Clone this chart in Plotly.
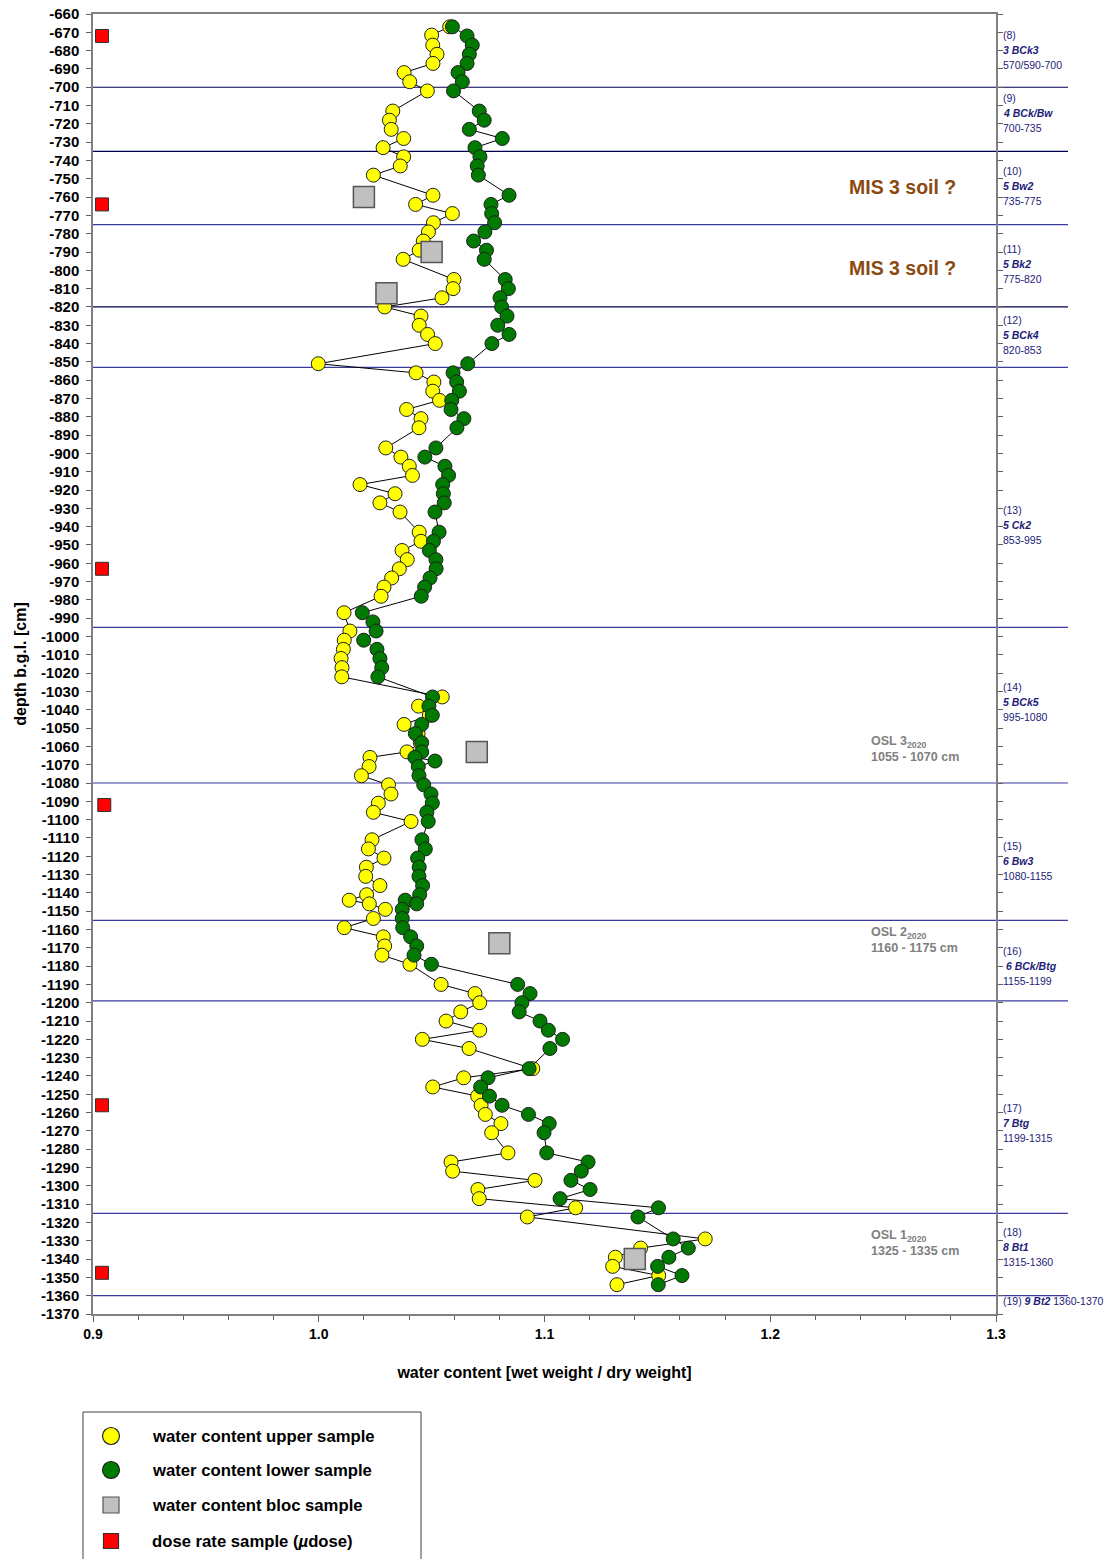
import plotly.graph_objects as go

# ---------------- data ----------------
upper_depth = [-667, -671.5, -677, -682, -687, -692, -697, -702, -713, -718, -723, -728, -733, -738, -743, -748,
               -759, -764, -769, -774, -779, -784, -789, -794, -805, -810, -815, -820, -825, -830, -835, -840,
               -851, -856, -861, -866, -871, -876, -881, -886, -897, -902, -907, -912, -917, -922, -927, -932,
               -943, -948, -953, -958, -963, -968, -973, -978, -987, -997, -1002, -1007, -1012, -1017, -1022,
               -1033, -1038, -1043, -1048, -1053, -1058, -1063, -1066, -1071, -1076, -1081, -1086, -1091, -1096,
               -1101, -1111, -1116, -1121, -1126, -1131, -1136, -1141, -1144, -1146, -1149, -1154, -1159, -1164,
               -1169, -1174, -1179, -1190, -1195, -1200, -1205, -1210, -1215, -1220, -1225, -1236, -1241, -1246,
               -1251, -1256, -1261, -1266, -1271, -1282, -1287, -1292, -1297, -1302, -1307, -1312, -1317, -1329,
               -1334, -1339, -1344, -1349, -1354]
upper_wc = [1.058, 1.050, 1.0505, 1.0524, 1.0506, 1.0378, 1.0403, 1.0481, 1.0328, 1.0313, 1.0321, 1.0376, 1.0285,
            1.0376, 1.0361, 1.0242, 1.0506, 1.0429, 1.0592, 1.0508, 1.0486, 1.0463, 1.0445, 1.0374, 1.0599, 1.0595,
            1.0546, 1.0292, 1.0453, 1.0445, 1.0482, 1.0516, 0.9998, 1.0431, 1.051, 1.0505, 1.0535, 1.0389, 1.0453,
            1.0444, 1.0297, 1.0364, 1.0401, 1.0415, 1.0183, 1.0338, 1.0271, 1.036, 1.0445, 1.0453, 1.0369, 1.0392,
            1.0357, 1.0323, 1.0289, 1.0276, 1.0112, 1.0138, 1.0113, 1.0109, 1.0099, 1.0103, 1.0102, 1.0547, 1.0442,
            1.049, 1.0378, 1.044, 1.045, 1.0391, 1.0227, 1.0223, 1.0189, 1.0309, 1.032, 1.0264, 1.0242, 1.0409,
            1.0236, 1.022, 1.0289, 1.0211, 1.0208, 1.0271, 1.0212, 1.0135, 1.0224, 1.0295, 1.0242, 1.0113, 1.0286,
            1.0292, 1.028, 1.0404, 1.0542, 1.0692, 1.0713, 1.0629, 1.0564, 1.0713, 1.0459, 1.0666, 1.0948, 1.0642,
            1.0505, 1.0704, 1.0719, 1.0738, 1.0807, 1.0766, 1.0838, 1.0586, 1.0593, 1.0958, 1.0705, 1.0711, 1.1138,
            1.0924, 1.1712, 1.1426, 1.1314, 1.1302, 1.1506, 1.1321]

lower_depth = [-667, -672, -677, -682, -687, -692, -697, -702, -713, -718, -723, -728, -733, -738, -743, -748,
               -759, -764, -769, -774, -779, -784, -789, -794, -805, -810, -815, -820, -825, -830, -835, -840,
               -851, -856, -861, -866, -871, -876, -881, -886, -897, -902, -907, -912, -917, -922, -927, -932,
               -943, -948, -953, -958, -963, -968, -973, -978, -987, -992, -997, -1002, -1007, -1012, -1017, -1022,
               -1033, -1038, -1043, -1048, -1053, -1058, -1063, -1066, -1068, -1071, -1076, -1081, -1086, -1091,
               -1096, -1101, -1111, -1116, -1121, -1126, -1131, -1136, -1141, -1144, -1146, -1149, -1154, -1159,
               -1164, -1169, -1174, -1179, -1190, -1195, -1200, -1205, -1210, -1215, -1220, -1225, -1236, -1241,
               -1246, -1251, -1256, -1261, -1266, -1271, -1282, -1287, -1292, -1297, -1302, -1307, -1312, -1317,
               -1329, -1334, -1339, -1344, -1349, -1354]
lower_wc = [1.0592, 1.0657, 1.068, 1.0667, 1.0657, 1.0617, 1.0636, 1.0597, 1.0711, 1.0733, 1.0667, 1.0813, 1.0692,
            1.0714, 1.0702, 1.0707, 1.0843, 1.0763, 1.0766, 1.0779, 1.0736, 1.0686, 1.0743, 1.0733, 1.0826, 1.084,
            1.0803, 1.081, 1.0834, 1.0793, 1.0843, 1.0767, 1.066, 1.0595, 1.0611, 1.0623, 1.0589, 1.0586, 1.0643,
            1.0612, 1.0519, 1.047, 1.0559, 1.0575, 1.0549, 1.0552, 1.0556, 1.0515, 1.0533, 1.0508, 1.049, 1.0519,
            1.052, 1.0493, 1.0469, 1.0454, 1.0193, 1.024, 1.0254, 1.0199, 1.0258, 1.0271, 1.0279, 1.0262, 1.0504,
            1.0488, 1.0503, 1.0456, 1.0428, 1.0456, 1.0456, 1.0426, 1.0515, 1.0441, 1.0444, 1.0465, 1.0497, 1.0503,
            1.0479, 1.0485, 1.0457, 1.0472, 1.0438, 1.0445, 1.0444, 1.046, 1.0447, 1.0383, 1.0434, 1.037, 1.037,
            1.0372, 1.0407, 1.0434, 1.0422, 1.0499, 1.0881, 1.0936, 1.09, 1.0888, 1.098, 1.1017, 1.108, 1.1024,
            1.0932, 1.075, 1.0717, 1.0756, 1.0812, 1.0929, 1.1021, 1.0998, 1.101, 1.1193, 1.1163, 1.1117, 1.1202,
            1.1069, 1.1505, 1.1414, 1.157, 1.1637, 1.1551, 1.1501, 1.1609, 1.1504]

bloc_depth = [-760, -790, -812.5, -1063, -1167.5, -1340]
bloc_wc = [1.02, 1.05, 1.03, 1.07, 1.08, 1.14]

dose_depth = [-672, -764, -963, -1092, -1256, -1347.5]
dose_wc = [0.904, 0.904, 0.904, 0.905, 0.904, 0.904]

horizon_bounds = [-700, -735, -775, -820, -853, -995, -1080, -1155, -1199, -1315, -1360]
horizon_colors = ["#000050", "#000050", "#3a3aa0", "#000050", "#3a3aa0", "#3a3aa0", "#3a3aa0",
                  "#3a3aa0", "#3a3aa0", "#3a3aa0", "#3a3aa0"]

horizon_nums = ["(8)", "(9)", "(10)", "(11)", "(12)", "(13)", "(14)", "(15)", "(16)", "(17)", "(18)"]
horizon_names = ["3 BCk3", "4 BCk/Bw", "5 Bw2", "5 Bk2", "5 BCk4", "5 Ck2", "5 BCk5", "6 Bw3", " 6 BCk/Btg",
                 "7 Btg", "8 Bt1"]
horizon_ranges = ["570/590-700", "700-735", "735-775", "775-820", "820-853", "853-995", "995-1080",
                  "1080-1155", "1155-1199", "1199-1315", "1315-1360"]
horizon_label_depth = [-679.5, -714.2, -754, -796.6, -835.5, -939, -1035.9, -1122.7, -1180.2, -1265.9, -1333.6]

osl_names = ["OSL 3", "OSL 2", "OSL 1"]
osl_ranges = ["1055 - 1070 cm", "1160 - 1175 cm", "1325 - 1335 cm"]
osl_label_depth = [-1061.4, -1166, -1331]

mis_label_depth = [-754.5, -798.7]

ytick_vals = list(range(-660, -1371, -10))
ytick_text = [str(v) for v in ytick_vals]
xtick_vals = [0.9, 1.0, 1.1, 1.2, 1.3]
xtick_text = ["0.9", "1.0", "1.1", "1.2", "1.3"]

legend_names = ["water content upper sample", "water content lower sample", "water content bloc sample",
                "dose rate sample (<i>µ</i>dose)"]

FONT = "Liberation Sans, Arial, sans-serif"
NAVY = "#1c1c78"

# plot-area geometry (px) used to place legend / labels in paper space
PL, PR, PT, PB = 93, 996, 14, 1314
def px_x(p):
    return (p - PL) / (PR - PL)
def px_y(p):
    return (PB - p) / (PB - PT)

fig = go.Figure()
fig.add_trace(go.Scatter(x=upper_wc, y=upper_depth, mode="lines+markers", name=legend_names[0],
                         line=dict(color="black", width=1),
                         marker=dict(symbol="circle", size=14, color="#FFFF00", line=dict(color="#202020", width=1))))
fig.add_trace(go.Scatter(x=lower_wc, y=lower_depth, mode="lines+markers", name=legend_names[1],
                         line=dict(color="black", width=1),
                         marker=dict(symbol="circle", size=14, color="#007A00", line=dict(color="#202020", width=1))))
fig.add_trace(go.Scatter(x=bloc_wc, y=bloc_depth, mode="markers", name=legend_names[2],
                         marker=dict(symbol="square", size=21, color="#C0C0C0", line=dict(color="#555555", width=1.5))))
fig.add_trace(go.Scatter(x=dose_wc, y=dose_depth, mode="markers", name=legend_names[3],
                         marker=dict(symbol="square", size=13, color="#FF0000", line=dict(color="#303030", width=1))))

shapes = []
for d, c in zip(horizon_bounds, horizon_colors):
    shapes.append(dict(type="line", xref="paper", yref="y", x0=0, x1=px_x(1068), y0=d, y1=d,
                       line=dict(color=c, width=1.2), layer="below"))

# ---- legend (drawn in paper space, below the plot) ----
shapes.append(dict(type="rect", xref="paper", yref="paper", x0=px_x(83), x1=px_x(421), y0=px_y(1412), y1=px_y(1575),
                   line=dict(color="#404040", width=1), fillcolor="rgba(0,0,0,0)"))
legend_rows = [1436, 1470, 1505, 1541]
legend_sym = [("circle", "#FFFF00", "#202020", 8.5), ("circle", "#007A00", "#202020", 8.5),
              ("rect", "#C0C0C0", "#555555", 8), ("rect", "#FF0000", "#303030", 7.5)]
annotations = []
for row, (kind, fc, lc, r), name in zip(legend_rows, legend_sym, legend_names):
    shapes.append(dict(type=kind, xref="paper", yref="paper", xsizemode="pixel", ysizemode="pixel",
                       xanchor=px_x(111), yanchor=px_y(row), x0=-r, x1=r, y0=-r, y1=r,
                       fillcolor=fc, line=dict(color=lc, width=1.2)))
    annotations.append(dict(x=px_x(150), y=px_y(row), xref="paper", yref="paper", xanchor="left",
                            yanchor="middle", text=name, showarrow=False,
                            font=dict(family=FONT, size=16.7, color="black", weight="bold")))

# ---- horizon labels on the right ----
LINE = 15 / 1.831  # 15 px line spacing expressed in depth units
for n, h, r, d in zip(horizon_nums, horizon_names, horizon_ranges, horizon_label_depth):
    for txt, dd in ((n, d + LINE), (f"<b><i>{h}</i></b>", d), (r, d - LINE)):
        annotations.append(dict(x=px_x(1001), y=dd, xref="paper", yref="y", xanchor="left", yanchor="middle",
                                text=txt, showarrow=False, align="left",
                                font=dict(family=FONT, size=10.5, color=NAVY)))
annotations.append(dict(x=px_x(1001), y=-1363.1, xref="paper", yref="y", xanchor="left", yanchor="middle",
                        text="(19) <b><i>9 Bt2</i></b> 1360-1370", showarrow=False, align="left",
                        font=dict(family=FONT, size=10.5, color=NAVY)))
for n, r, d in zip(osl_names, osl_ranges, osl_label_depth):
    annotations.append(dict(x=px_x(869), y=d, xref="paper", yref="y", xanchor="left", yanchor="middle",
                            text=f"<b>{n}<sub>2020</sub></b><br><b>{r}</b>", showarrow=False, align="left",
                            font=dict(family=FONT, size=12.5, color="#808080")))
for d in mis_label_depth:
    annotations.append(dict(x=px_x(902), y=d, xref="paper", yref="y", xanchor="center", yanchor="middle",
                            text="<b>MIS 3 soil ?</b>", showarrow=False,
                            font=dict(family=FONT, size=19.5, color="#8B4A10")))

fig.update_layout(
    width=1104, height=1559,
    margin=dict(l=PL, r=1104 - PR, t=PT, b=1559 - PB),
    paper_bgcolor="white", plot_bgcolor="white",
    font=dict(family=FONT, color="black"),
    showlegend=False,
    shapes=shapes,
    annotations=annotations,
    xaxis=dict(range=[0.9, 1.3], tickvals=xtick_vals, ticktext=xtick_text, ticks="outside", ticklen=6,
               tickcolor="#606060", showline=True, linecolor="#808080", linewidth=1.5, mirror=True,
               showgrid=False, zeroline=False, automargin=False,
               tickfont=dict(family=FONT, size=14, color="black", weight="bold"),
               minor=dict(dtick=0.02, ticks="outside", ticklen=4, tickcolor="#606060", showgrid=False),
               title=dict(text="water content [wet weight / dry weight]", standoff=26,
                          font=dict(family=FONT, size=16, color="black", weight="bold"))),
    yaxis=dict(range=[-1370, -660], tickvals=ytick_vals, ticktext=ytick_text, ticks="outside", ticklen=5,
               tickcolor="#606060", showline=True, linecolor="#808080", linewidth=1.5, mirror="ticks",
               showgrid=False, zeroline=False, ticklabelstandoff=4, automargin=False,
               tickfont=dict(family=FONT, size=15, color="black", weight="bold"),
               title=dict(text="depth b.g.l. [cm]", standoff=10,
                          font=dict(family=FONT, size=16, color="black", weight="bold"))),
)

fig.write_html("out.html", config={"displayModeBar": False},
               post_script="document.body.style.margin='0';document.body.style.overflow='hidden';")
